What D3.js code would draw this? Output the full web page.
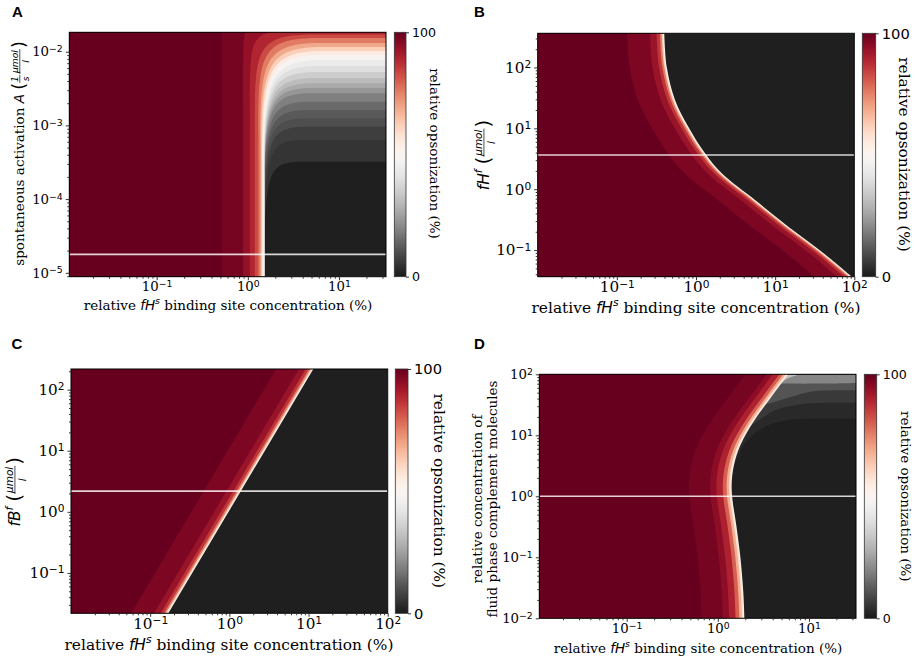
<!DOCTYPE html>
<html>
<head>
<meta charset="utf-8">
<script src="https://cdn.jsdelivr.net/npm/d3@7"></script>
<style>
  body { margin: 0; background: #fff; }
  text { white-space: pre; }
</style>
</head>
<body>
<svg id="fig" width="915" height="656"></svg>
<script>
// ---------------- data ----------------
// A: x = relative fH^s binding site concentration (%), y = spontaneous activation A
const aX = [0.011, 32.8];
const aY = [8.85e-6, 0.01833];
const aRef = 1.78e-5;
const aXTicks = [0.1, 1, 10];
const aYTicks = [1e-5, 1e-4, 1e-3, 1e-2];
// [opsonization %, contour control points]; the region left of / above each contour has that value
const aContours = [
  [5,   [[1.537, 8.85e-6], [1.537, 1.4e-5],  [1.537, 3.21e-4], [3.73, 3.21e-4], [32.8, 3.21e-4]]],
  [7,   [[1.537, 8.85e-6], [1.537, 2.38e-5], [1.537, 6.34e-4], [4.02, 6.34e-4], [32.8, 6.34e-4]]],
  [10,  [[1.537, 8.85e-6], [1.537, 3.57e-5], [1.537, 9.6e-4],  [4.34, 9.6e-4],  [32.8, 9.6e-4]]],
  [12,  [[1.518, 8.85e-6], [1.518, 4.45e-5], [1.518, 1.25e-3], [4.56, 1.25e-3], [32.8, 1.25e-3]]],
  [15,  [[1.518, 8.85e-6], [1.518, 6.08e-5], [1.518, 1.62e-3], [4.8, 1.62e-3],  [32.8, 1.62e-3]]],
  [19,  [[1.518, 8.85e-6], [1.518, 7.57e-5], [1.518, 2.1e-3],  [5.05, 2.1e-3],  [32.8, 2.1e-3]]],
  [23,  [[1.518, 8.85e-6], [1.518, 9.72e-5], [1.518, 2.73e-3], [5.31, 2.73e-3], [32.8, 2.73e-3]]],
  [27,  [[1.518, 8.85e-6], [1.518, 1.14e-4], [1.518, 3.22e-3], [5.58, 3.22e-3], [32.8, 3.22e-3]]],
  [31,  [[1.518, 8.85e-6], [1.518, 1.33e-4], [1.518, 3.73e-3], [5.88, 3.73e-3], [32.8, 3.73e-3]]],
  [35,  [[1.518, 8.85e-6], [1.518, 1.6e-4],  [1.518, 4.4e-3],  [6.18, 4.4e-3],  [32.8, 4.4e-3]]],
  [40,  [[1.518, 8.85e-6], [1.518, 1.93e-4], [1.518, 5.31e-3], [6.5, 5.31e-3],  [32.8, 5.31e-3]]],
  [44,  [[1.518, 8.85e-6], [1.518, 2.33e-4], [1.518, 6.4e-3],  [7.02, 6.4e-3],  [32.8, 6.4e-3]]],
  [48,  [[1.492, 8.85e-6], [1.492, 2.48e-4], [1.492, 7.7e-3],  [7.96, 7.7e-3],  [32.8, 7.7e-3]]],
  [55,  [[1.461, 8.85e-6], [1.461, 2.9e-4],  [1.461, 9.02e-3], [7.96, 9.02e-3], [32.8, 9.02e-3]]],
  [62,  [[1.436, 8.85e-6], [1.436, 3.4e-4],  [1.436, 1.022e-2], [7.96, 1.022e-2], [32.8, 1.022e-2]]],
  [69,  [[1.407, 8.85e-6], [1.407, 4.64e-4], [1.407, 1.159e-2], [7.96, 1.159e-2], [32.8, 1.159e-2]]],
  [76,  [[1.372, 8.85e-6], [1.372, 7.41e-4], [1.372, 1.313e-2], [7.57, 1.313e-2], [32.8, 1.313e-2]]],
  [83,  [[1.304, 8.85e-6], [1.304, 1.18e-3], [1.304, 1.535e-2], [7.02, 1.535e-2], [32.8, 1.535e-2]]],
  [89,  [[1.194, 8.85e-6], [1.194, 1.62e-3], [1.194, 1.71e-2],  [6.18, 1.71e-2],  [32.8, 1.71e-2]]],
  [94,  [[1.052, 8.85e-6], [1.052, 3e-3],    [1.052, 0.01833],  [2.43, 0.01833]]],
  [98,  [[0.888, 8.85e-6], [0.888, 5e-3],    [0.888, 0.01833],  [1.0, 0.01833]]],
  [100, [[0.522, 8.85e-6], [0.522, 0.01833]]]
];

// B: y = fH^f (umol/l)
const bX = [0.01, 100];
const bY = [0.0365, 365];
const bRef = 3.65;
const bXTicks = [0.1, 1, 10, 100];
const bYTicks = [0.1, 1, 10, 100];
const bBoundary = [[0.3976, 365], [0.4266, 103.1], [0.543, 29.3], [0.799, 10.65], [1.299, 3.89],
  [2.112, 1.827], [5.565, 0.665], [14.66, 0.2422], [38.7, 0.094], [92.7, 0.0365]];
// [shift factor of the boundary, opsonization %]
const bBands = [[1.0, 50], [0.965, 62], [0.93, 76], [0.88, 86], [0.8, 93], [0.66, 97], [0.34, 100]];

// C: y = fB^f (umol/l)
const cX = [0.01, 100];
const cY = [0.0218, 218];
const cRef = 2.18;
const cXTicks = [0.1, 1, 10, 100];
const cYTicks = [0.1, 1, 10, 100];
const cBoundary = [[11.5, 218], [0.1694, 0.0218]];
const cBands = [[1.0, 50], [0.965, 62], [0.93, 76], [0.88, 86], [0.8, 93], [0.66, 97], [0.34, 100]];

// D: y = relative concentration of fluid phase complement molecules
const dX = [0.011, 32.8];
const dY = [0.01, 100];
const dRef = 1;
const dXTicks = [0.1, 1, 10];
const dYTicks = [0.01, 0.1, 1, 10, 100];
const dBoundary = [[5.93, 100], [3.75, 40], [2.45, 16.5], [1.76, 6.8], [1.5, 3.2], [1.42, 1.7],
  [1.44, 0.94], [1.59, 0.344], [1.77, 0.098], [1.9, 0.0277], [1.96, 0.01]];
const dBands = [[1.0, 50], [0.975, 58], [0.94, 68], [0.88, 80], [0.8, 90], [0.68, 95], [0.58, 98], [0.34, 100]];
const dGrey = [
  [32, [[7.9, 100], [5.4, 80], [4.2, 55]]],
  [20, [[32.8, 72.3], [13.21, 70.4], [4.8, 70.4]]],
  [11, [[32.8, 54.67], [11.15, 52.63], [6.72, 43.58], [3.37, 31.86]]],
  [6,  [[32.8, 33.97], [8.66, 32.7], [4.42, 26.38], [2.894, 18.09], [2.19, 13.37]]],
  [3,  [[32.8, 18.57], [5.69, 17.6], [3.146, 13.22], [2.067, 7.97], [1.672, 4.53], [1.39, 2.54]]]
];

const cbarTicks = [0, 100];
const cbarLabel = 'relative opsonization (%)';
const xLabel = [{t: 'relative '}, {t: 'fH', k: 'it'}, {t: 's', k: 'sup'}, {t: ' binding site concentration (%)'}];
const aYLabel = [{t: 'spontaneous activation '}, {t: 'A', k: 'it'}, {t: ' ', k: 'it'}, {t: '(', k: 'par'},
  {frac: ['1', 's']}, {frac: ['μmol', 'l']}, {t: ')', k: 'par'}];
const bYLabel = [{t: 'fH', k: 'it'}, {t: 'f', k: 'sup'}, {t: ' ', k: 'it'}, {t: '(', k: 'par'}, {frac: ['μmol', 'l']}, {t: ')', k: 'par'}];
const cYLabel = [{t: 'fB', k: 'it'}, {t: 'f', k: 'sup'}, {t: ' ', k: 'it'}, {t: '(', k: 'par'}, {frac: ['μmol', 'l']}, {t: ')', k: 'par'}];
const dYLabel = [[{t: 'relative concentration of'}], [{t: 'fluid phase complement molecules'}]];

// ---------------- drawing ----------------
const SERIF = '"DejaVu Serif", serif';
const SANS = '"DejaVu Sans", sans-serif';
const color = v => d3.interpolateRdGy(1 - v / 100);
const svg = d3.select('#fig');

const bands = (boundary, list, close) =>
  list.map(([f, v]) => ({v, pts: boundary.map(([x, y]) => [x * f, y]), close}));

const small = {tick: 13.3, lab: 13.5, cb: 13.5, cbt: 12.6};
const large = {tick: 15.2, lab: 15.4, cb: 15.4, cbt: 14.7};

const panels = [
  {letter: 'A', lx: 12, ly: 17, x0: 69.3, x1: 386, y0: 32.3, y1: 276.7, cb: [394.3, 406],
    xDom: aX, yDom: aY, xTicks: aXTicks, yTicks: aYTicks, ref: aRef, curve: d3.curveBasis,
    regions: aContours.map(([v, pts]) => ({v, pts, close: ['tr', 'tl', 'bl']})),
    fs: small, xlab: [228, 310], ylab: [[19, 153.5]], cblab: [435, 153.5],
    ylabel: [aYLabel]},
  {letter: 'B', lx: 474, ly: 17, x0: 537.7, x1: 854.3, y0: 33.3, y1: 276.7, cb: [862.3, 875.7],
    xDom: bX, yDom: bY, xTicks: bXTicks, yTicks: bYTicks, ref: bRef, curve: d3.curveCatmullRom,
    regions: bands(bBoundary, bBands, ['bl', 'tl']),
    fs: large, xlab: [696, 312.5], ylab: [[483, 155]], cblab: [905, 154.5],
    ylabel: [bYLabel]},
  {letter: 'C', lx: 11.5, ly: 349, x0: 71, x1: 387.7, y0: 369, y1: 613.3, cb: [395.3, 408],
    xDom: cX, yDom: cY, xTicks: cXTicks, yTicks: cYTicks, ref: cRef, curve: d3.curveLinear,
    regions: bands(cBoundary, cBands, ['bl', 'tl']),
    fs: large, xlab: [229, 649.5], ylab: [[14, 491.7]], cblab: [439.3, 490.8],
    ylabel: [cYLabel]},
  {letter: 'D', lx: 474, ly: 349, x0: 539.3, x1: 856, y0: 374.3, y1: 618.3, cb: [864.3, 876.7],
    xDom: dX, yDom: dY, xTicks: dXTicks, yTicks: dYTicks, ref: dRef, curve: d3.curveCatmullRom,
    regions: bands(dBoundary, dBands, ['bl', 'tl']).concat(dGrey.map(([v, pts]) => ({v, pts, close: ['tl', 'tr']}))),
    fs: small, xlab: [698, 652.5], ylab: [[476.7, 499], [491.7, 499]],
    cblab: [905.7, 496.3], ylabel: dYLabel}
];

function richText(g, parts, size) {
  let x = 0;
  parts.forEach(p => {
    if (p.frac) {
      const fs = size * 0.68;
      const num = g.append('text').attr('y', -size * 0.44).attr('text-anchor', 'middle')
        .style('font', `italic ${fs}px ${SANS}`).text(p.frac[0]);
      const den = g.append('text').attr('y', size * 0.4).attr('text-anchor', 'middle')
        .style('font', `italic ${fs}px ${SANS}`).text(p.frac[1]);
      const w = Math.max(num.node().getComputedTextLength(), den.node().getComputedTextLength()) + 2;
      num.attr('x', x + w / 2);
      den.attr('x', x + w / 2);
      g.append('line').attr('x1', x).attr('x2', x + w).attr('y1', -size * 0.3).attr('y2', -size * 0.3)
        .attr('stroke', '#000').attr('stroke-width', 0.7);
      x += w + 1;
      return;
    }
    const t = g.append('text').attr('x', x).text(p.t);
    if (p.k === 'it') t.style('font', `italic ${size}px ${SANS}`);
    else if (p.k === 'sup') t.attr('y', -size * 0.42).style('font', `italic ${size * 0.7}px ${SANS}`);
    else if (p.k === 'par') t.attr('y', size * 0.12).style('font', `${size * 1.3}px ${SANS}`);
    else t.style('font', `${size}px ${SERIF}`);
    x += t.node().getComputedTextLength();
  });
  return x;
}

function label(parent, parts, size, cx, cy, angle) {
  const outer = parent.append('g').attr('transform', `translate(${cx},${cy}) rotate(${angle})`);
  const inner = outer.append('g');
  const w = richText(inner, parts, size);
  inner.attr('transform', `translate(${-w / 2},${size * 0.36})`);
}

function powLabel(sel, size) {
  sel.each(function (d) {
    const t = d3.select(this).text(null).style('font', `${size}px ${SERIF}`);
    const e = Math.round(Math.log10(d));
    t.append('tspan').text('10');
    t.append('tspan').attr('dy', '-0.45em').style('font-size', `${size * 0.7}px`)
      .style('font-family', SANS).text(e < 0 ? '−' + (-e) : String(e));
  });
}

function minorTicks(dom) {
  const out = [];
  for (let k = Math.floor(Math.log10(dom[0])); k <= Math.ceil(Math.log10(dom[1])); k++) {
    for (let m = 2; m <= 9; m++) {
      const v = m * Math.pow(10, k);
      if (v > dom[0] && v < dom[1]) out.push(v);
    }
  }
  return out;
}

const defs = svg.append('defs');
const grad = defs.append('linearGradient').attr('id', 'cbgrad')
  .attr('x1', 0).attr('y1', 1).attr('x2', 0).attr('y2', 0);
d3.range(0, 101, 2).forEach(v => grad.append('stop').attr('offset', v / 100).attr('stop-color', color(v)));

panels.forEach((p, i) => {
  const x = d3.scaleLog().domain(p.xDom).range([p.x0, p.x1]);
  const y = d3.scaleLog().domain(p.yDom).range([p.y1, p.y0]);
  const g = svg.append('g');

  defs.append('clipPath').attr('id', 'clip' + i).append('rect')
    .attr('x', p.x0).attr('y', p.y0).attr('width', p.x1 - p.x0).attr('height', p.y1 - p.y0);
  const plot = g.append('g').attr('clip-path', `url(#clip${i})`);

  plot.append('rect').attr('x', p.x0).attr('y', p.y0).attr('width', p.x1 - p.x0).attr('height', p.y1 - p.y0)
    .attr('fill', color(1));

  const corner = {tl: [p.x0, p.y0], tr: [p.x1, p.y0], bl: [p.x0, p.y1], br: [p.x1, p.y1]};
  const line = d3.line().x(d => x(d[0])).y(d => y(d[1])).curve(p.curve);
  p.regions.slice().sort((a, b) => a.v - b.v).forEach(r => {
    let path = line(r.pts);
    r.close.forEach(c => { path += `L${corner[c][0]},${corner[c][1]}`; });
    plot.append('path').attr('d', path + 'Z').attr('fill', color(r.v));
  });

  // reference line
  plot.append('line').attr('x1', p.x0).attr('x2', p.x1).attr('y1', y(p.ref)).attr('y2', y(p.ref))
    .attr('stroke', '#fff').attr('stroke-opacity', 0.82).attr('stroke-width', 1.6);

  g.append('rect').attr('x', p.x0).attr('y', p.y0).attr('width', p.x1 - p.x0).attr('height', p.y1 - p.y0)
    .attr('fill', 'none').attr('stroke', '#000').attr('stroke-width', 1);

  // axes
  const styleAxis = a => { a.select('.domain').remove(); a.selectAll('line').attr('stroke', '#333'); };
  g.append('g').attr('transform', `translate(0,${p.y1})`)
    .call(d3.axisBottom(x).tickValues(minorTicks(p.xDom)).tickSize(2).tickFormat(''))
    .call(styleAxis);
  g.append('g').attr('transform', `translate(${p.x0},0)`)
    .call(d3.axisLeft(y).tickValues(minorTicks(p.yDom)).tickSize(2).tickFormat(''))
    .call(styleAxis);
  g.append('g').attr('transform', `translate(0,${p.y1})`)
    .call(d3.axisBottom(x).tickValues(p.xTicks).tickSize(3.5).tickPadding(1.5))
    .call(styleAxis)
    .call(a => a.selectAll('.tick text').call(powLabel, p.fs.tick));
  g.append('g').attr('transform', `translate(${p.x0},0)`)
    .call(d3.axisLeft(y).tickValues(p.yTicks).tickSize(3.5).tickPadding(3))
    .call(styleAxis)
    .call(a => a.selectAll('.tick text').call(powLabel, p.fs.tick));

  // colorbar
  const cbY = d3.scaleLinear().domain([0, 100]).range([p.y1, p.y0]);
  g.append('rect').attr('x', p.cb[0]).attr('y', p.y0).attr('width', p.cb[1] - p.cb[0]).attr('height', p.y1 - p.y0)
    .attr('fill', 'url(#cbgrad)').attr('stroke', '#333').attr('stroke-width', 0.8);
  g.append('g').attr('transform', `translate(${p.cb[1]},0)`)
    .call(d3.axisRight(cbY).tickValues(cbarTicks).tickSize(3).tickPadding(3).tickFormat(d3.format('d')))
    .call(styleAxis)
    .call(a => a.selectAll('.tick text').style('font', `${p.fs.cbt}px ${SANS}`));
  label(g, [{t: cbarLabel}], p.fs.cb, p.cblab[0], p.cblab[1], 90);

  // axis labels
  label(g, xLabel, p.fs.lab, p.xlab[0], p.xlab[1] - p.fs.lab * 0.36, 0);
  p.ylabel.forEach((parts, j) => label(g, parts, p.fs.lab, p.ylab[j][0], p.ylab[j][1], -90));

  g.append('text').attr('x', p.lx).attr('y', p.ly)
    .style('font', `bold 15px "Liberation Sans", Arial, sans-serif`).text(p.letter);
});
</script>
</body>
</html>
